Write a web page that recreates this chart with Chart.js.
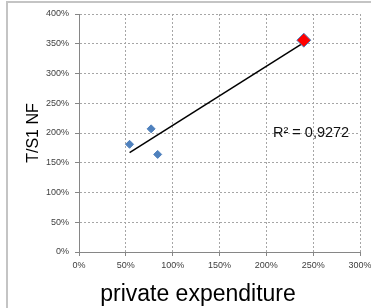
<!DOCTYPE html>
<html>
<head>
<meta charset="utf-8">
<script src="https://cdn.jsdelivr.net/npm/chart.js@4"></script>
<style>
    html, body { margin: 0; padding: 0; background: #fff; overflow: hidden; }
    #wrap { position: relative; width: 371px; height: 308px; }
    #frame {
        position: absolute; left: 6px; top: 1px; width: 400px; height: 340px;
        border-left: 2px solid #c4c4c4; border-top: 2px solid #c4c4c4;
        pointer-events: none;
    }
</style>
</head>
<body>
<div id="wrap">
    <canvas id="chart" width="371" height="308"></canvas>
    <div id="frame"></div>
</div>
<script>
// Data (percent values)
const otherX = [54, 77, 84];
const otherY = [181, 207, 164];
const highlightX = [240];
const highlightY = [356];
// Linear trend line end points as drawn
const trendX = [54, 240];
const trendY = [167, 352];

const xTicks = [0, 50, 100, 150, 200, 250, 300];
const yTicks = [0, 50, 100, 150, 200, 250, 300, 350, 400];

const rSquared = 'R² = 0,9272';
const xTitle = 'private expenditure';
const yTitle = 'T/S1 NF';

const toPoints = (xs, ys) => xs.map((x, i) => ({ x: x, y: ys[i] }));

// Axis titles and the R² label
const labelsPlugin = {
    id: 'labels',
    afterDraw(chart) {
        const ctx = chart.ctx;
        ctx.save();
        ctx.fillStyle = '#000';
        ctx.font = '23px "Liberation Sans", Arial, sans-serif';
        ctx.textAlign = 'center';
        ctx.textBaseline = 'alphabetic';
        ctx.fillText(xTitle, 198, 301);

        ctx.translate(34, 133);
        ctx.rotate(-Math.PI / 2);
        ctx.font = '16px "Liberation Sans", Arial, sans-serif';
        ctx.textBaseline = 'middle';
        ctx.fillText(yTitle, 0, 0);
        ctx.restore();

        ctx.save();
        ctx.fillStyle = '#111';
        ctx.font = '14.5px "Liberation Sans", Arial, sans-serif';
        ctx.textAlign = 'left';
        ctx.textBaseline = 'alphabetic';
        ctx.fillText(rSquared, 273, 137);
        ctx.restore();
    }
};

const gridStyle = {
    color: '#a6a6a6',
    lineWidth: 1,
    tickLength: 4,
    tickColor: '#868686',
    tickBorderDash: []
};

new Chart(document.getElementById('chart').getContext('2d'), {
    type: 'scatter',
    data: {
        datasets: [{
            label: 'trend',
            data: toPoints(trendX, trendY),
            showLine: true,
            borderColor: '#000',
            borderWidth: 1.5,
            pointRadius: 0,
            order: 2
        }, {
            label: 'countries',
            data: toPoints(otherX, otherY),
            pointStyle: 'rectRot',
            pointRadius: 4,
            backgroundColor: '#4f81bd',
            borderColor: '#4f81bd',
            borderWidth: 1,
            order: 1
        }, {
            label: 'highlight',
            data: toPoints(highlightX, highlightY),
            pointStyle: 'rectRot',
            pointRadius: 7,
            backgroundColor: '#ff0000',
            borderColor: '#4f81bd',
            borderWidth: 1,
            order: 0
        }]
    },
    options: {
        responsive: false,
        animation: false,
        layout: { padding: { left: 0, right: 11, top: 14, bottom: 0 } },
        plugins: {
            legend: { display: false },
            tooltip: { enabled: false }
        },
        scales: {
            x: {
                type: 'linear',
                min: 0,
                max: 300,
                afterBuildTicks: s => { s.ticks = xTicks.map(v => ({ value: v })); },
                afterFit: s => { s.height = 56; s.paddingLeft = 0; s.paddingRight = 0; },
                grid: gridStyle,
                border: { display: true, color: '#868686', width: 1, dash: [2, 2] },
                ticks: {
                    padding: 4,
                    color: '#404040',
                    font: { size: 9, family: '"Liberation Sans", Arial, sans-serif' },
                    maxRotation: 0,
                    callback: v => v + '%'
                }
            },
            y: {
                type: 'linear',
                min: 0,
                max: 400,
                afterBuildTicks: s => { s.ticks = yTicks.map(v => ({ value: v })); },
                afterFit: s => { s.width = 79; s.paddingTop = 0; s.paddingBottom = 0; },
                grid: gridStyle,
                border: { display: true, color: '#868686', width: 1, dash: [2, 2] },
                ticks: {
                    padding: 6,
                    color: '#404040',
                    font: { size: 9, family: '"Liberation Sans", Arial, sans-serif' },
                    callback: v => v + '%'
                }
            }
        }
    },
    plugins: [labelsPlugin]
});
</script>
</body>
</html>
